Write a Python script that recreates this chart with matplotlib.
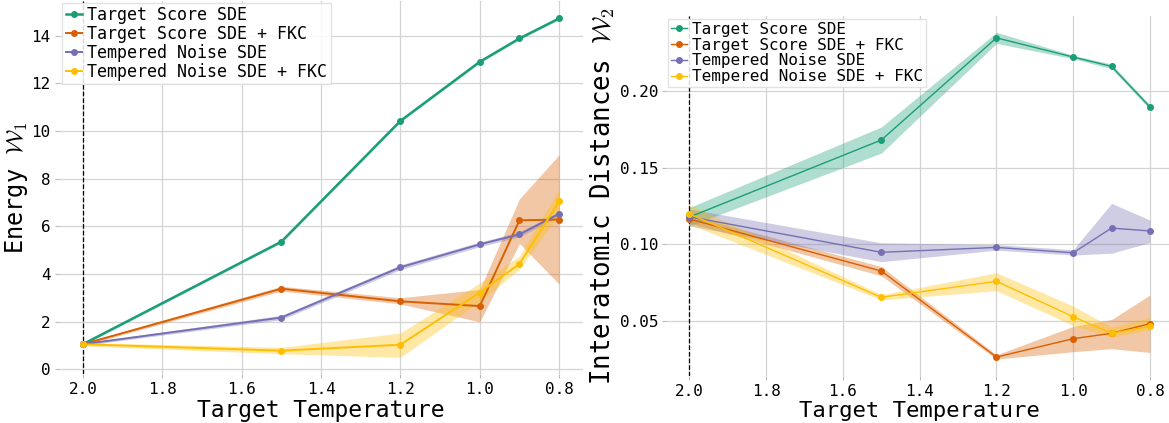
import matplotlib
matplotlib.use("Agg")
import matplotlib.pyplot as plt

plt.rcParams["font.family"] = ["DejaVu Sans Mono"]
plt.rcParams["mathtext.fontset"] = "cm"

temps = [2.0, 1.5, 1.2, 1.0, 0.9, 0.8]
xticks = [2.0, 1.8, 1.6, 1.4, 1.2, 1.0, 0.8]
labels = ["Target Score SDE", "Target Score SDE + FKC",
          "Tempered Noise SDE", "Tempered Noise SDE + FKC"]
colors = ["#1b9e77", "#d95f02", "#7570b3", "#ffbf00"]

# energy W1 (mean, lower, upper)
energy_ts = [1.05, 5.35, 10.42, 12.9, 13.88, 14.72]
energy_ts_lo = [1.0, 5.3, 10.37, 12.85, 13.83, 14.67]
energy_ts_hi = [1.1, 5.4, 10.47, 12.95, 13.93, 14.77]
energy_tsf = [1.05, 3.38, 2.85, 2.65, 6.25, 6.28]
energy_tsf_lo = [1.0, 3.28, 2.74, 1.99, 5.28, 3.57]
energy_tsf_hi = [1.1, 3.48, 3.0, 3.35, 7.15, 9.0]
energy_tn = [1.05, 2.17, 4.28, 5.24, 5.66, 6.52]
energy_tn_lo = [1.0, 2.08, 4.18, 5.14, 5.56, 6.42]
energy_tn_hi = [1.1, 2.26, 4.38, 5.34, 5.76, 6.62]
energy_tnf = [1.05, 0.78, 1.03, 3.22, 4.42, 7.05]
energy_tnf_lo = [0.98, 0.65, 0.5, 2.85, 4.2, 6.5]
energy_tnf_hi = [1.12, 0.92, 1.52, 3.62, 4.75, 7.55]

# interatomic distances W2 (mean, lower, upper)
dist_ts = [0.1178, 0.168, 0.2346, 0.2221, 0.216, 0.1895]
dist_ts_lo = [0.112, 0.1595, 0.231, 0.221, 0.2145, 0.188]
dist_ts_hi = [0.124, 0.1765, 0.2382, 0.2232, 0.2175, 0.191]
dist_tsf = [0.1165, 0.0826, 0.0265, 0.0385, 0.042, 0.0483]
dist_tsf_lo = [0.114, 0.0795, 0.0252, 0.030, 0.032, 0.0295]
dist_tsf_hi = [0.119, 0.0855, 0.028, 0.0465, 0.051, 0.067]
dist_tn = [0.118, 0.0948, 0.098, 0.0945, 0.1106, 0.1087]
dist_tn_lo = [0.112, 0.0887, 0.0962, 0.093, 0.0942, 0.1012]
dist_tn_hi = [0.123, 0.1010, 0.0998, 0.0965, 0.1267, 0.1158]
dist_tnf = [0.1198, 0.0655, 0.0759, 0.0528, 0.042, 0.0466]
dist_tnf_lo = [0.113, 0.0638, 0.0698, 0.047, 0.0395, 0.0442]
dist_tnf_hi = [0.126, 0.0672, 0.0815, 0.0598, 0.046, 0.0525]


def style_axes(ax, xfs):
    for s in ax.spines.values():
        s.set_visible(False)
    ax.grid(True, color="#d4d4d4", linewidth=0.9)
    ax.set_axisbelow(True)
    ax.set_xticks(xticks)
    ax.set_xticklabels([f"{t:.1f}" for t in xticks])
    ax.tick_params(length=3, width=0.8, color="#bbbbbb", labelsize=11.5, pad=3)
    ax.axvline(2.0, color="black", linestyle="--", linewidth=0.9, zorder=1)
    ax.set_xlabel("Target Temperature", fontsize=xfs, labelpad=1)
    ax.set_xlim(2.06, 0.74)


def draw(ax, series, lw):
    for (m, lo, hi), c, lab, w in zip(series, colors, labels, lw):
        ax.fill_between(temps, lo, hi, color=c, alpha=0.35, linewidth=0)
        ax.plot(temps, m, color=c, linewidth=w, marker="o", markersize=4, label=lab)


def add_legend(ax, anchor, fs):
    ax.legend(loc="upper left", bbox_to_anchor=anchor, borderaxespad=0,
              fontsize=fs, handlelength=1.0, handletextpad=0.3, labelspacing=0.05,
              borderpad=0.2, fancybox=False, edgecolor="#dddddd", framealpha=0.85)


fig = plt.figure(figsize=(11.69, 4.23), dpi=100)

ax1 = fig.add_axes([0.0505, 0.1158, 0.4482, 0.8818])
draw(ax1, [(energy_ts, energy_ts_lo, energy_ts_hi),
           (energy_tsf, energy_tsf_lo, energy_tsf_hi),
           (energy_tn, energy_tn_lo, energy_tn_hi),
           (energy_tnf, energy_tnf_lo, energy_tnf_hi)],
     [1.8, 1.4, 1.4, 1.4])
style_axes(ax1, 16.5)
ax1.set_ylim(-0.2, 15.45)
ax1.set_yticks([0, 2, 4, 6, 8, 10, 12, 14])
ax1.set_ylabel(r"Energy $\mathcal{W}_1$", fontsize=17, labelpad=1)
add_legend(ax1, (0.006, 0.995), 12)

ax2 = fig.add_axes([0.5701, 0.1116, 0.4333, 0.8511])
draw(ax2, [(dist_ts, dist_ts_lo, dist_ts_hi),
           (dist_tsf, dist_tsf_lo, dist_tsf_hi),
           (dist_tn, dist_tn_lo, dist_tn_hi),
           (dist_tnf, dist_tnf_lo, dist_tnf_hi)],
     [1.0, 1.0, 1.0, 1.0])
style_axes(ax2, 16)
ax2.set_ylim(0.0143, 0.249)
ax2.set_yticks([0.05, 0.10, 0.15, 0.20])
ax2.set_yticklabels(["0.05", "0.10", "0.15", "0.20"])
ax2.set_ylabel(r"Interatomic Distances $\mathcal{W}_2$", fontsize=18.5, labelpad=2)
add_legend(ax2, (0.003, 0.992), 11.5)

fig.savefig("out.png", dpi=100)
